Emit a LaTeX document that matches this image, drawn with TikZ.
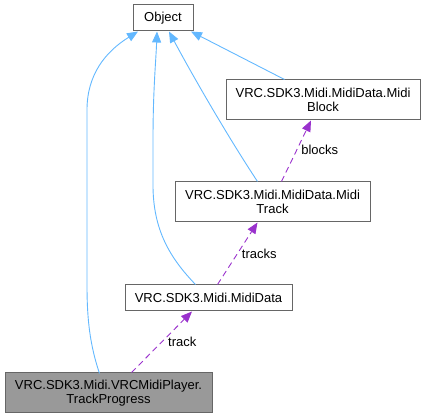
\documentclass[tikz,border=0pt]{standalone}
\usepackage{fontspec}
\setmainfont{Liberation Sans}
\usetikzlibrary{arrows.meta}
\definecolor{inh}{HTML}{63B8FF}
\definecolor{use}{HTML}{9A32CD}
\definecolor{bord}{HTML}{666666}
\definecolor{grayfill}{HTML}{999999}
\tikzset{
  cls/.style={draw=bord, line width=1pt, fill=white, inner sep=0pt, align=center,
    font=\fontsize{13}{14.5}\selectfont, text=black},
  inherit/.style={draw=inh, line width=0.9pt, -{Triangle[width=9pt,length=11pt]}},
  usage/.style={draw=use, line width=0.9pt, dash pattern=on 6pt off 4pt, -{Triangle[width=9pt,length=11pt]}},
  lbl/.style={font=\fontsize{13}{14.5}\selectfont, text=black, inner sep=1pt}
}
\begin{document}
\begin{tikzpicture}[x=1pt,y=-1pt]
\useasboundingbox (0,0) rectangle (426,419);
\node[cls, minimum width=60pt, minimum height=26pt] (obj) at (163,18) {Object};
\node[cls, minimum width=194pt, minimum height=40pt] (blk) at (323,100) {VRC.SDK3.Midi.MidiData.Midi\\Block};
\node[cls, minimum width=195pt, minimum height=40pt] (trk) at (272.5,202) {VRC.SDK3.Midi.MidiData.Midi\\Track};
\node[cls, minimum width=167pt, minimum height=26pt] (md) at (208.5,298) {VRC.SDK3.Midi.MidiData};
\node[cls, fill=grayfill, minimum width=207pt, minimum height=40pt] (tp) at (108.5,393) {VRC.SDK3.Midi.VRCMidiPlayer.\\TrackProgress};
% inheritance
\draw[inherit] (tp.south west) ++(95,-40) coordinate (a1)
  .. controls (90,345) and (87,320) .. (87,285) -- (87,110)
  .. controls (87,75) and (105,52) .. (138,31.5);
\draw[inherit] (md.north west) ++(71,0) coordinate (a2)
  .. controls (170,258) and (153,230) .. (153,185) -- (153,140)
  .. controls (153,90) and (156,60) .. (157,31.5);
\draw[inherit] (trk.north west) ++(83,0) coordinate (a3)
  .. controls (230,140) and (195,80) .. (169,31.5);
\draw[inherit] (blk.north west) ++(59,0) coordinate (a4) -- (191,31.5);
% usage
\draw[usage] (trk.north west) ++(107,0) coordinate (b1) -- (311,120.5) node[pos=0.52, right=3pt, lbl] {blocks};
\draw[usage] (md.north west) ++(93,0) coordinate (b2) -- (257.5,222.5) node[pos=0.5, right=3pt, lbl] {tracks};
\draw[usage] (tp.north west) ++(127,0) coordinate (b3) -- (192,311.5) node[pos=0.5, right=5pt, lbl] {track};
\end{tikzpicture}
\end{document}
